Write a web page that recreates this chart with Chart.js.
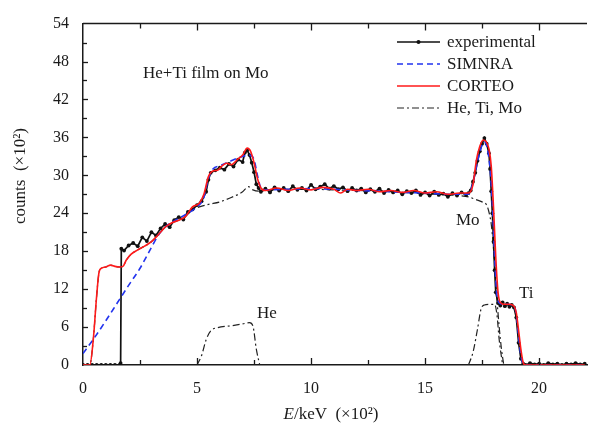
<!DOCTYPE html>
<html>
<head>
<meta charset="utf-8">
<script src="https://cdn.jsdelivr.net/npm/chart.js@4.4.0/dist/chart.umd.min.js"></script>
<style>
  html, body { margin: 0; padding: 0; background: #fff; }
</style>
</head>
<body>
<canvas id="chart" width="591" height="433"></canvas>
<script>
// energie en unites de 100 keV, coups en unites de 100
const xTickValues = [0, 5, 10, 15, 20];
const yTickValues = [0, 6, 12, 18, 24, 30, 36, 42, 48, 54];

const expE = [0, 0.2, 0.4, 0.6, 0.8, 1.0, 1.2, 1.4, 1.6, 1.65, 1.68,
  1.8, 2.0, 2.2, 2.4, 2.6, 2.8, 3.0, 3.2, 3.4, 3.6, 3.8, 4.0, 4.2, 4.4, 4.6, 4.8,
  5.0, 5.2, 5.4, 5.5, 5.6, 5.8, 6.0, 6.2, 6.4, 6.6, 6.8, 7.0, 7.1, 7.2, 7.3, 7.4,
  7.5, 7.6, 7.7, 7.8, 8.0, 8.2, 8.4, 8.6, 8.8, 9.0, 9.2, 9.4, 9.6, 9.8, 10.0,
  10.2, 10.4, 10.6, 10.8, 11.0, 11.2, 11.4, 11.6, 11.8, 12.0, 12.2, 12.4, 12.6,
  12.8, 13.0, 13.2, 13.4, 13.6, 13.8, 14.0, 14.2, 14.4, 14.6, 14.8, 15.0, 15.2,
  15.4, 15.6, 15.8, 16.0, 16.2, 16.4, 16.6, 16.8, 16.9, 17.0, 17.1, 17.2, 17.3,
  17.4, 17.5, 17.6, 17.7, 17.8, 17.85, 17.9, 17.95, 18.0, 18.05, 18.1, 18.2,
  18.3, 18.4, 18.5, 18.6, 18.7, 18.8, 18.9, 19.0, 19.1, 19.2, 19.3, 19.4, 19.6,
  19.8, 20.0, 20.2, 20.4, 20.6, 20.8, 21.0, 21.2, 21.4, 21.6, 21.8, 22.0];
const expCounts = [0, 0, 0, 0, 0, 0, 0, 0, 0, 0.3, 18.4,
  18.1, 18.9, 19.3, 18.8, 20.2, 19.6, 21.0, 20.5, 21.6, 22.3, 21.8, 22.9, 23.4, 23.0, 24.2, 24.6,
  25.3, 25.9, 27.4, 29.3, 30.4, 30.8, 31.2, 30.9, 31.8, 31.4, 32.5, 32.1, 33.6, 34.0, 33.2, 32.0,
  30.5, 28.6, 28.0, 27.4, 27.9, 27.3, 28.1, 27.6, 28.0, 27.5, 28.3, 27.7, 28.0, 27.6, 28.5,
  27.8, 28.2, 28.6, 27.9, 28.3, 27.8, 28.1, 27.5, 28.0, 27.6, 27.9, 27.3, 27.8,
  27.4, 27.9, 27.2, 27.7, 27.3, 27.6, 27.0, 27.5, 27.2, 27.6, 26.9, 27.3, 26.8,
  27.4, 26.9, 27.1, 26.6, 27.2, 26.8, 27.3, 26.9, 27.2, 27.6, 29.0, 30.4, 32.3,
  33.8, 35.0, 35.9, 35.0, 33.5, 31.0, 27.5, 24.0, 19.5, 15.0, 11.5, 9.8,
  9.4, 9.9, 9.3, 9.7, 9.2, 9.5, 9.1, 7.5, 3.5, 1.0, 0.2, 0, 0.3,
  0.1, 0.2, 0, 0.3, 0.1, 0.2, 0, 0.2, 0.1, 0.3, 0.1, 0.2];

const simE = [0, 0.5, 1.0, 1.5, 2.0, 2.5, 3.0, 3.3, 3.6, 4.0, 4.5, 5.0, 5.3, 5.5, 5.7,
  6.0, 6.5, 7.0, 7.3, 7.5, 7.65, 7.8, 8.0, 9, 10, 11, 12, 13, 14, 15, 16, 16.9,
  17.1, 17.3, 17.5, 17.6, 17.7, 17.85, 17.95, 18.05, 18.15, 18.3, 18.6, 18.9,
  19.0, 19.1, 19.2, 19.3, 19.4, 22];
const simCounts = [1.8, 4.3, 7.0, 9.8, 12.6, 15.3, 18.6, 20.5, 21.8, 22.8, 23.8, 25.0, 26.5, 29.5, 31.0,
  31.5, 32.3, 33.0, 33.2, 32.5, 30.0, 28.0, 27.7, 27.8, 27.9, 27.8, 27.6, 27.5, 27.3, 27.2, 27.0, 27.0,
  28.8, 32.2, 34.8, 35.3, 34.7, 31.0, 25.5, 17.0, 11.0, 9.7, 9.6, 9.3,
  8.0, 4.5, 1.5, 0.2, 0, 0];

const corE = [0, 0.3, 0.45, 0.6, 0.7, 0.8, 1.0, 1.2, 1.4, 1.6, 1.75, 1.9, 2.1, 2.4, 2.7,
  3.0, 3.3, 3.6, 3.9, 4.2, 4.5, 4.8, 5.1, 5.3, 5.5, 5.7, 5.9, 6.1, 6.3, 6.5, 6.8,
  7.0, 7.2, 7.35, 7.5, 7.65, 7.8, 8.0, 8.5, 9.0, 9.5, 10.0, 10.5, 11.0, 11.3,
  11.6, 12.0, 12.5, 13.0, 13.5, 14.0, 14.5, 15.0, 15.5, 16.0, 16.5, 16.9, 17.1,
  17.25, 17.4, 17.55, 17.7, 17.8, 17.9, 18.0, 18.1, 18.2, 18.3, 18.5, 18.7, 18.9,
  19.0, 19.1, 19.2, 19.3, 19.4, 22];
const corCounts = [0, 0, 4, 11, 14.6, 15.3, 15.5, 15.8, 15.6, 15.5, 15.6, 16.6, 17.5, 18.2, 18.8,
  19.5, 20.6, 21.8, 22.5, 22.9, 23.5, 25.0, 25.6, 27.0, 29.8, 30.7, 30.8, 31.5, 31.9, 31.7, 32.6,
  33.2, 34.3, 33.8, 32.0, 29.5, 28.0, 27.6, 28.0, 27.6, 28.0, 27.7, 28.1, 27.8, 27.2,
  27.8, 27.6, 27.8, 27.4, 27.6, 27.3, 27.6, 27.2, 27.4, 27.0, 27.2, 27.2, 28.5,
  32.4, 34.6, 35.6, 35.2, 34.2, 31.5, 25.0, 17.0, 11.5, 9.9, 9.6, 9.6, 9.3,
  8.3, 5.5, 2.5, 0.4, 0, 0];

const heE = [5.0, 5.2, 5.4, 5.6, 5.9, 6.5, 7.0, 7.3, 7.45, 7.6, 7.75];
const heCounts = [0, 1.5, 4.0, 5.4, 5.9, 6.2, 6.5, 6.7, 6.2, 2.5, 0];

const tiE = [16.9, 17.1, 17.3, 17.45, 17.6, 17.8, 18.05, 18.15, 18.25, 18.4];
const tiCounts = [0, 2.0, 5.7, 8.8, 9.5, 9.6, 9.6, 8.0, 4.0, 0];

const moE = [0, 0.3, 0.45, 0.6, 0.7, 0.8, 1.0, 1.2, 1.4, 1.6, 1.75, 1.9, 2.1, 2.4, 2.7,
  3.0, 3.3, 3.6, 3.9, 4.2, 4.5, 4.8, 5.1, 5.5, 6.0, 6.5, 7.0, 7.25, 7.45, 7.7,
  8.0, 9, 10, 11, 12, 13, 14, 15, 16, 16.5, 16.9, 17.2, 17.5, 17.7, 17.8, 17.9,
  18.0, 18.08, 18.15, 18.25, 18.35, 18.45];
const moCounts = [0, 0, 4, 11, 14.6, 15.3, 15.5, 15.8, 15.6, 15.5, 15.6, 16.6, 17.5, 18.2, 18.8,
  19.5, 20.6, 21.8, 22.5, 22.9, 23.5, 24.6, 25.0, 25.4, 25.8, 26.5, 27.4, 28.2, 27.7, 27.5,
  27.6, 27.8, 27.8, 27.7, 27.6, 27.5, 27.3, 27.1, 26.9, 26.8, 26.6, 26.2, 25.8, 25.3, 24.2, 22.3,
  18.5, 14.6, 10.5, 6.0, 2.5, 0];

const pairs = (xs, ys) => xs.map((x, i) => ({ x: x, y: ys[i] }));

const serif = '"Liberation Serif", "DejaVu Serif", serif';
const ink = '#1a1a1a';
const dashDot = [7, 3, 2, 3];

// Legende, cadre, graduations internes et textes
const decor = {
  id: 'decor',
  afterDraw(chart) {
    const ctx = chart.ctx;
    const area = chart.chartArea;
    const xs = chart.scales.x;
    const ys = chart.scales.y;
    ctx.save();
    ctx.strokeStyle = ink;
    ctx.lineWidth = 1.5;
    ctx.setLineDash([]);
    // ligne du haut
    ctx.beginPath();
    ctx.moveTo(area.left, area.top);
    ctx.lineTo(area.right, area.top);
    ctx.stroke();
    // graduations x (bas et haut)
    ctx.lineWidth = 1.3;
    for (let v = 2.5; v <= 22; v += 2.5) {
      const px = Math.round(xs.getPixelForValue(v)) + 0.5;
      const len = (v % 5 === 0) ? 7 : 5;
      ctx.beginPath();
      ctx.moveTo(px, area.bottom);
      ctx.lineTo(px, area.bottom - len);
      ctx.moveTo(px, area.top);
      ctx.lineTo(px, area.top + len);
      ctx.stroke();
    }
    // graduations y
    for (let v = 3; v < 54; v += 3) {
      const py = Math.round(ys.getPixelForValue(v)) + 0.5;
      const len = (v % 6 === 0) ? 5 : 4;
      ctx.beginPath();
      ctx.moveTo(area.left, py);
      ctx.lineTo(area.left + len, py);
      ctx.stroke();
    }

    // legende
    const items = [
      { ds: 2, text: 'experimental', y: 42 },
      { ds: 1, text: 'SIMNRA', y: 64 },
      { ds: 0, text: 'CORTEO', y: 86 },
      { ds: 3, text: 'He, Ti, Mo', y: 108 }
    ];
    ctx.font = '17px ' + serif;
    ctx.textBaseline = 'middle';
    ctx.textAlign = 'left';
    items.forEach(it => {
      const d = chart.data.datasets[it.ds];
      ctx.strokeStyle = d.borderColor;
      ctx.lineWidth = d.borderWidth;
      ctx.setLineDash(d.borderDash || []);
      ctx.beginPath();
      ctx.moveTo(397, it.y);
      ctx.lineTo(440, it.y);
      ctx.stroke();
      if (d.pointRadius) {
        ctx.fillStyle = d.borderColor;
        ctx.beginPath();
        ctx.arc(418.5, it.y, 2, 0, Math.PI * 2);
        ctx.fill();
      }
      ctx.fillStyle = ink;
      ctx.fillText(it.text, 447, it.y + 1);
    });
    ctx.setLineDash([]);

    // annotations
    ctx.fillStyle = ink;
    ctx.font = '17px ' + serif;
    ctx.fillText('He+Ti film on Mo', 143, 74);
    ctx.fillText('Mo', 456, 221);
    ctx.fillText('Ti', 519, 294);
    ctx.fillText('He', 257, 314);

    // titre axe x : E en italique
    ctx.font = 'italic 17px ' + serif;
    const part1 = 'E';
    const part2 = '/keV  (\u00d710\u00b2)';
    const w1 = ctx.measureText(part1).width;
    ctx.font = '17px ' + serif;
    const w2 = ctx.measureText(part2).width;
    let tx = 331 - (w1 + w2) / 2;
    ctx.font = 'italic 17px ' + serif;
    ctx.fillText(part1, tx, 415);
    ctx.font = '17px ' + serif;
    ctx.fillText(part2, tx + w1, 415);

    // titre axe y
    ctx.translate(21, 176);
    ctx.rotate(-Math.PI / 2);
    ctx.textAlign = 'center';
    ctx.fillText('counts  (\u00d710\u00b2)', 0, 0);
    ctx.restore();
  }
};

new Chart(document.getElementById('chart'), {
  type: 'line',
  data: {
    datasets: [
      {
        label: 'CORTEO',
        data: pairs(corE, corCounts),
        borderColor: '#ff1a1a',
        borderWidth: 1.6,
        pointRadius: 0,
        cubicInterpolationMode: 'monotone'
      },
      {
        label: 'SIMNRA',
        data: pairs(simE, simCounts),
        borderColor: '#2233ee',
        borderWidth: 1.6,
        borderDash: [6, 4],
        pointRadius: 0,
        cubicInterpolationMode: 'monotone'
      },
      {
        label: 'experimental',
        data: pairs(expE, expCounts),
        borderColor: '#111111',
        backgroundColor: '#111111',
        borderWidth: 1.7,
        pointRadius: 1.9,
        pointBorderWidth: 0,
        tension: 0
      },
      {
        label: 'He',
        data: pairs(heE, heCounts),
        borderColor: '#222222',
        borderWidth: 1.2,
        borderDash: dashDot,
        pointRadius: 0,
        cubicInterpolationMode: 'monotone'
      },
      {
        label: 'Ti',
        data: pairs(tiE, tiCounts),
        borderColor: '#222222',
        borderWidth: 1.2,
        borderDash: dashDot,
        pointRadius: 0,
        cubicInterpolationMode: 'monotone'
      },
      {
        label: 'Mo',
        data: pairs(moE, moCounts),
        borderColor: '#222222',
        borderWidth: 1.2,
        borderDash: dashDot,
        pointRadius: 0,
        cubicInterpolationMode: 'monotone'
      }
    ]
  },
  options: {
    responsive: false,
    animation: false,
    layout: { padding: { top: 15, right: 0, left: 0, bottom: 0 } },
    plugins: {
      legend: { display: false },
      tooltip: { enabled: false }
    },
    scales: {
      x: {
        type: 'linear',
        min: 0,
        max: 22.1,
        afterBuildTicks: s => { s.ticks = xTickValues.map(v => ({ value: v })); },
        afterFit: s => { s.height = 68; },
        grid: { display: false, drawTicks: false },
        border: { display: true, color: ink, width: 1.5 },
        ticks: { color: ink, padding: 14, maxRotation: 0, font: { family: serif, size: 16 } }
      },
      y: {
        min: 0,
        max: 54,
        afterBuildTicks: s => { s.ticks = yTickValues.map(v => ({ value: v })); },
        afterFit: s => { s.width = 83; },
        grid: { display: false, drawTicks: false },
        border: { display: true, color: ink, width: 1.5 },
        ticks: { color: ink, padding: 14, font: { family: serif, size: 16 } }
      }
    }
  },
  plugins: [decor]
});
</script>
</body>
</html>
